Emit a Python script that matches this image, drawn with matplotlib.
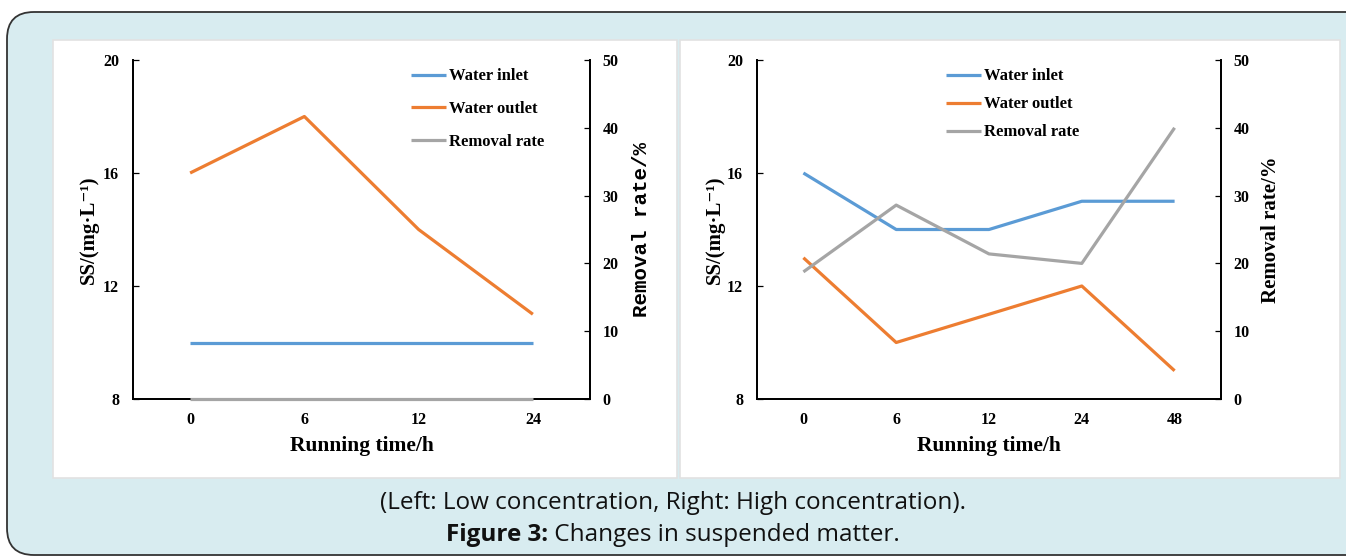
import matplotlib
matplotlib.use("Agg")
import matplotlib.pyplot as plt
from matplotlib.patches import FancyBboxPatch, Rectangle

# data
times_low = ["0", "6", "12", "24"]
inlet_low = [10, 10, 10, 10]
outlet_low = [16, 18, 14, 11]
removal_low = [0, 0, 0, 0]

times_high = ["0", "6", "12", "24", "48"]
inlet_high = [16, 14, 14, 15, 15]
outlet_high = [13, 10, 11, 12, 9]
removal_high = [18.75, 28.6, 21.4, 20.0, 40.0]

W, H = 1346, 559
BLUE, ORANGE, GRAY = "#5b9bd5", "#ed7d31", "#a5a5a5"
serif = ["Liberation Serif", "DejaVu Serif"]

fig = plt.figure(figsize=(W / 100, H / 100), dpi=100)
fig.patch.set_facecolor("white")

# background box with rounded corners
bg = FancyBboxPatch((7 / W, 4 / H), (W + 20) / W, (H - 16) / H,
                    boxstyle="round,pad=0,rounding_size=0.02",
                    transform=fig.transFigure, facecolor="#d8ecf0",
                    edgecolor="#333333", linewidth=1.3, mutation_aspect=W / H,
                    zorder=-10)
fig.patches.append(bg)

# white panels
for x0, x1 in [(53, 677), (680, 1340)]:
    fig.patches.append(Rectangle((x0 / W, 1 - 478 / H), (x1 - x0) / W, (478 - 40) / H,
                                 transform=fig.transFigure, facecolor="white",
                                 edgecolor="#e2e2e2", linewidth=1.2, zorder=-9))


def panel(left_px, width_px, cats, inlet, outlet, removal, leg_x, leg_y, leg_spacing,
          right_label_font, left_lab_px, right_lab_px):
    ax = fig.add_axes([left_px / W, 1 - 399 / H, width_px / W, 339 / H])
    ax.set_facecolor("none")
    x = range(len(cats))
    ax.plot(x, inlet, color=BLUE, lw=2.3, solid_capstyle="butt", label="Water inlet")
    ax.plot(x, outlet, color=ORANGE, lw=2.3, solid_capstyle="butt", label="Water outlet")
    ax.set_xlim(-0.5, len(cats) - 0.5)
    ax.set_ylim(8, 20)
    ax.set_yticks([8, 12, 16, 20])
    ax.set_xticks(list(x))
    ax.set_xticklabels(cats)
    ax.tick_params(axis="x", length=0, pad=9)
    ax.tick_params(axis="y", length=4.5, width=0.9, direction="in", pad=10)
    ax.spines["top"].set_visible(False)
    for s in ax.spines.values():
        s.set_linewidth(1.3)

    ax2 = ax.twinx()
    ax2.plot(x, removal, color=GRAY, lw=2.3, solid_capstyle="butt", label="Removal rate",
             clip_on=False, zorder=5)
    ax2.set_ylim(0, 50)
    ax2.set_yticks([0, 10, 20, 30, 40, 50])
    ax2.tick_params(axis="y", length=4.5, width=0.9, direction="in", pad=9)
    ax2.spines["top"].set_visible(False)
    for s in ax2.spines.values():
        s.set_linewidth(1.3)

    for lab in ax.get_xticklabels() + ax.get_yticklabels() + ax2.get_yticklabels():
        lab.set_family(serif)
        lab.set_fontweight("bold")
        lab.set_fontsize(11.5)

    ax.set_xlabel("Running time/h", family=serif, fontweight="bold", fontsize=15.5)
    ax.xaxis.set_label_coords(0.5, -(436 - 399) / 339)
    ax.set_ylabel("SS/(mg·L⁻¹)", family=serif, fontweight="bold", fontsize=15)
    ax.yaxis.set_label_coords(-left_lab_px / width_px, 0.5)
    ax2.set_ylabel("Removal rate/%", family=right_label_font, fontweight="bold", fontsize=15)
    ax2.yaxis.set_label_coords((width_px + right_lab_px) / width_px, 0.5)

    handles = ax.get_lines() + ax2.get_lines()
    ax2.legend(handles, [h.get_label() for h in handles], loc="upper left",
               bbox_to_anchor=(leg_x, leg_y), frameon=False, borderpad=0,
               borderaxespad=0, handlelength=2.1, handletextpad=0.2,
               labelspacing=leg_spacing, prop={"family": serif, "weight": "bold", "size": 12})
    return ax, ax2


panel(133, 457, times_low, inlet_low, outlet_low, removal_low, 0.608, 0.975, 1.0,
      ["Liberation Mono", "DejaVu Sans Mono"], 34, 42)
panel(757, 464, times_high, inlet_high, outlet_high, removal_high, 0.407, 0.975, 0.72,
      serif, 32, 40)

cap_font = dict(family="Open Sans", fontsize=17.5, color="#111111", va="center")
fig.text(0.5, 1 - 503 / H, "(Left: Low concentration, Right: High concentration).",
         ha="center", **cap_font)
# second caption line: bold part + normal part, centred together
renderer = fig.canvas.get_renderer()
t1 = fig.text(0, 1 - 535 / H, "Figure 3:", fontweight="bold", ha="left", **cap_font)
t2 = fig.text(0, 1 - 535 / H, " Changes in suspended matter.", ha="left", **cap_font)
w1 = t1.get_window_extent(renderer).width
w2 = t2.get_window_extent(renderer).width
start = (W - w1 - w2) / 2
t1.set_x(start / W)
t2.set_x((start + w1) / W)

fig.savefig("out.png", dpi=100)
